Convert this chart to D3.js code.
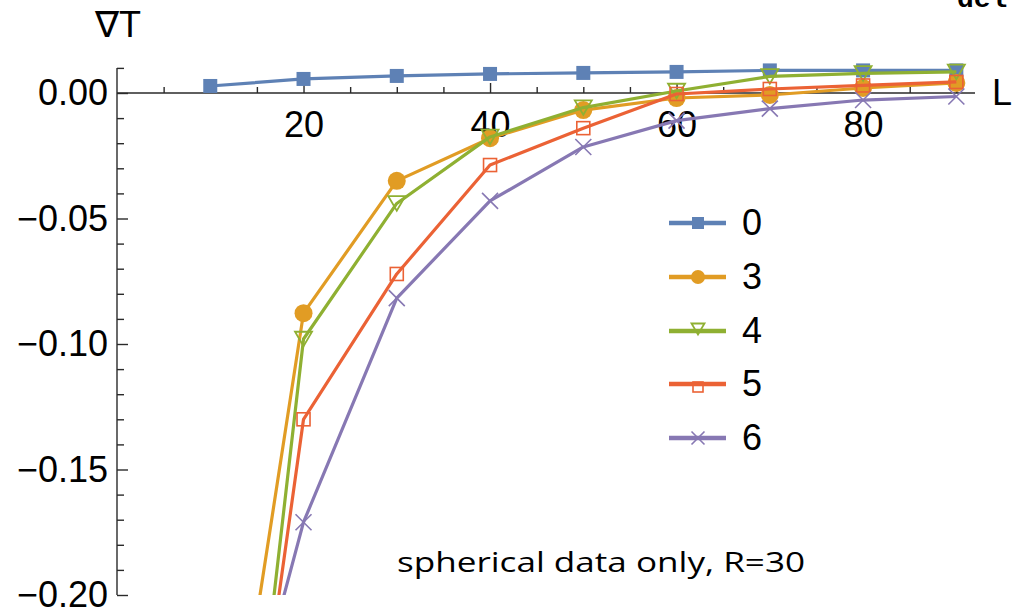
<!DOCTYPE html>
<html>
<head>
<meta charset="utf-8">
<script src="https://cdn.jsdelivr.net/npm/d3@7"></script>
<style>
  body { margin: 0; background: #fff; }
  svg { display: block; }
  text { font-family: "Liberation Sans", Arial, Helvetica, sans-serif; fill: #000; }
</style>
</head>
<body>
<svg id="chart" width="1013" height="614"></svg>
<script>
// ---- data -------------------------------------------------------------
const lValues = [10, 20, 30, 40, 50, 60, 70, 80, 90];
const seriesLabels = ["0", "3", "4", "5", "6"];
const grad0 = [0.0028, 0.0056, 0.0068, 0.0076, 0.0080, 0.0084, 0.0090, 0.0090, 0.0090];
const grad3 = [-0.3285, -0.0877, -0.0350, -0.0180, -0.0068, -0.0020, -0.0008, 0.0020, 0.0040];
const grad4 = [-0.4210, -0.0980, -0.0440, -0.0175, -0.0058, 0.0008, 0.0066, 0.0078, 0.0084];
const grad5 = [-0.3957, -0.1300, -0.0721, -0.0287, -0.0140, -0.0004, 0.0016, 0.0030, 0.0044];
const grad6 = [-0.3100, -0.1710, -0.0817, -0.0430, -0.0215, -0.0110, -0.0062, -0.0028, -0.0014];
const xMajorTicks = [20, 40, 60, 80];
const yMajorTicks = [0, -0.05, -0.10, -0.15, -0.20];
const yLabel = "\u2207T";
const xLabel = "L";
const note = "spherical data only, R=30";

// ---- styling ----------------------------------------------------------
const colors = ["#5e81b5", "#e19c24", "#8fb032", "#eb6235", "#8778b3"];
const shapes = ["square", "circle", "triangle", "openSquare", "cross"];
const seriesValues = [grad0, grad3, grad4, grad5, grad6];

const svg = d3.select("#chart");

const x = d3.scaleLinear().domain([0, 92]).range([117, 975]);
const y = d3.scaleLinear().domain([-0.20, 0.01]).range([595, 67.9]);

const axisColor = "#2a2a2a";
const fontSize = 36;

// clip for the plotted curves
svg.append("defs").append("clipPath").attr("id", "plotClip")
  .append("rect")
  .attr("x", x(0)).attr("y", 0)
  .attr("width", x(92) - x(0) + 20).attr("height", y(-0.20));

// ---- axes -------------------------------------------------------------
// x axis sits on y = 0, ticks point upward, labels below
const xMinor = d3.range(5, 92, 5).filter(v => !xMajorTicks.includes(v));
const gx = svg.append("g").attr("transform", `translate(0,${y(0)})`);
gx.append("g").call(d3.axisBottom(x).tickValues(xMinor).tickSize(-6).tickFormat(""))
  .call(g => g.select(".domain").remove());
gx.append("g").call(d3.axisBottom(x).tickValues(xMajorTicks).tickSize(-10).tickPadding(18)
    .tickFormat(d3.format("d")))
  .call(g => g.select(".domain").remove());
gx.append("line").attr("x1", x(0)).attr("x2", x(92)).attr("y1", 0).attr("y2", 0);
gx.selectAll("line").attr("stroke", axisColor).attr("stroke-width", 1.4);
gx.selectAll("text").style("font-size", fontSize + "px").attr("fill", "#000")
  .style("font-family", '"Liberation Sans", Arial, sans-serif');

// y axis at x = 0, ticks point right, labels left
const yMinor = d3.range(-0.20, 0.0101, 0.01).map(v => +v.toFixed(2))
  .filter(v => !yMajorTicks.some(t => Math.abs(t - v) < 1e-9));
const gy = svg.append("g").attr("transform", `translate(${x(0)},0)`);
gy.append("g").call(d3.axisLeft(y).tickValues(yMinor).tickSize(-7).tickFormat(""))
  .call(g => g.select(".domain").remove());
gy.append("g").call(d3.axisLeft(y).tickValues(yMajorTicks).tickSize(-11).tickPadding(9)
    .tickFormat(d => d3.format(".2f")(d).replace("-", "\u2212")))
  .call(g => g.select(".domain").remove());
gy.append("line").attr("x1", 0).attr("x2", 0).attr("y1", y(0.01)).attr("y2", y(-0.20));
gy.selectAll("line").attr("stroke", axisColor).attr("stroke-width", 1.4);
gy.selectAll("text").style("font-size", fontSize + "px").attr("fill", "#000")
  .style("font-family", '"Liberation Sans", Arial, sans-serif');

// axis titles
svg.append("text").attr("x", 95).attr("y", 37).style("font-size", fontSize + "px").text(yLabel);
svg.append("text").attr("x", 992).attr("y", 105).style("font-size", fontSize + "px").text(xLabel);

// ---- markers ----------------------------------------------------------
function drawMarker(sel, shape, color, s) {
  if (shape === "square") {
    sel.append("rect").attr("x", -s / 2).attr("y", -s / 2).attr("width", s).attr("height", s)
      .attr("fill", color);
  } else if (shape === "circle") {
    sel.append("circle").attr("r", s / 2).attr("fill", color);
  } else if (shape === "triangle") {
    const h = s * 0.85;
    sel.append("path")
      .attr("d", `M${-s / 2},${-h / 2}L${s / 2},${-h / 2}L0,${h / 2}Z`)
      .attr("fill", "none").attr("stroke", color).attr("stroke-width", 1.8);
  } else if (shape === "openSquare") {
    const t = s - 2;
    sel.append("rect").attr("x", -t / 2).attr("y", -t / 2).attr("width", t).attr("height", t)
      .attr("fill", "none").attr("stroke", color).attr("stroke-width", 1.6);
  } else if (shape === "cross") {
    const a = s / 2;
    sel.append("path").attr("d", `M${-a},${-a}L${a},${a}M${-a},${a}L${a},${-a}`)
      .attr("fill", "none").attr("stroke", color).attr("stroke-width", 1.6);
  }
}

const markerSize = [14, 18, 17, 15, 16];

// ---- series -----------------------------------------------------------
const plot = svg.append("g").attr("clip-path", "url(#plotClip)");
const line = d3.line().x(d => x(d[0])).y(d => y(d[1]));

seriesValues.forEach((vals, i) => {
  const pts = lValues.map((l, j) => [l, vals[j]]);
  const g = plot.append("g");
  g.append("path").datum(pts).attr("d", line)
    .attr("fill", "none").attr("stroke", colors[i]).attr("stroke-width", 3.2)
    .attr("stroke-linejoin", "round");
  g.selectAll("g.pt").data(pts).join("g").attr("class", "pt")
    .attr("transform", d => `translate(${x(d[0])},${y(d[1])})`)
    .each(function () { drawMarker(d3.select(this), shapes[i], colors[i], markerSize[i]); });
});

// ---- legend -----------------------------------------------------------
const legendRows = [223, 277, 331, 384, 438];
const legend = svg.append("g");
const legendSize = [12, 14, 13, 12, 13];
seriesLabels.forEach((lab, i) => {
  const row = legend.append("g").attr("transform", `translate(0,${legendRows[i]})`);
  row.append("line").attr("x1", 669).attr("x2", 726).attr("y1", 0).attr("y2", 0)
    .attr("stroke", colors[i]).attr("stroke-width", 4.5);
  const m = row.append("g").attr("transform", `translate(698,${i === 2 ? -2 : i === 3 ? 3 : 0})`);
  drawMarker(m, shapes[i], colors[i], legendSize[i]);
  row.append("text").attr("x", 742).attr("y", 12).style("font-size", fontSize + "px").text(lab);
});

// ---- annotations ------------------------------------------------------
svg.append("text").attr("x", 397).attr("y", 572)
  .attr("textLength", 408).attr("lengthAdjust", "spacingAndGlyphs")
  .style("font-family", '"Open Sans", "Noto Sans", sans-serif')
  .style("font-size", "28px").text(note);

svg.append("text").attr("x", 957).attr("y", 7)
  .style("font-family", '"Liberation Mono", "DejaVu Sans Mono", monospace')
  .style("font-weight", "bold").style("font-size", "28px").text("del");
</script>
</body>
</html>
